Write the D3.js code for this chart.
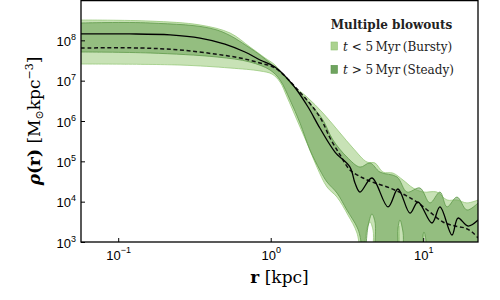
<!DOCTYPE html>
<html><head><meta charset="utf-8">
<script src="https://cdn.jsdelivr.net/npm/d3@7"></script>
<style>body{margin:0;background:#fff}svg{display:block}</style>
</head><body><svg id="c" width="500" height="300"></svg>
<script>
// ---- data ----
const xTicks = [0.1, 1, 10];
const xTickExp = ["\u22121", "0", "1"];
const yTicks = [1e3, 1e4, 1e5, 1e6, 1e7, 1e8];
const yTickExp = ["3", "4", "5", "6", "7", "8"];

const rSolid   = [0.057,0.119,0.219,0.344,0.501,0.678,0.851,1.067,1.40,1.757,2.10,2.64,3.31,3.57,3.85,4.61,5.88,6.83,8.19,9.24,11.42,12.88,15.44,16.90,19.67,22.9];
const rhoSolid = [1.44e8,1.44e8,1.36e8,1.14e8,8.1e7,5.14e7,3.25e7,2.18e7,7.8e6,2.22e6,6.7e5,1.70e5,7.2e4,2.9e4,1.73e4,3.86e4,7.4e3,2.06e4,5.2e3,9.8e3,2.96e3,7.4e3,1.49e3,3.93e3,2.49e3,3.51e3];

const rDashed   = [0.057,0.139,0.254,0.431,0.629,0.851,1.067,1.51,2.10,2.45,2.85,3.31,4.03,4.83,6.06,7.60,9.10,11.07,13.48,16.15,18.79,20.89,22.9];
const rhoDashed = [6.46e7,6.46e7,5.76e7,4.58e7,3.65e7,2.74e7,2.06e7,5.86e6,1.26e6,3.79e5,1.44e5,6.1e4,3.86e4,2.9e4,2.18e4,1.46e4,9.8e3,5.5e3,3.13e3,2.49e3,2.22e3,1.77e3,1.26e3];

// t < 5 Myr (Bursty) band
const rBurstyHi   = [0.057,0.162,0.344,0.541,0.731,0.918,1.067,1.339,1.73,2.20,2.85,3.46,4.28,4.83,5.45,6.34,7.37,8.58,9.97,12.31,14.32,16.65,19.36,22.9];
const rhoBurstyHi = [3.19e8,3.0e8,2.40e8,1.52e8,6.84e7,3.65e7,2.44e7,8.75e6,3.93e6,1.58e6,5.04e5,2.14e5,9.6e4,9.1e4,5.4e4,5.1e4,3.44e4,2.18e4,1.73e4,1.73e4,1.10e4,1.10e4,9.3e3,1.10e4];
const rBurstyLo   = [0.057,0.254,0.541,0.851,1.02,1.151,1.28,1.487,1.73,2.01,2.34,2.72,3.21,3.68,3.97,4.28,4.48,4.69,4.90,6.63,6.94,7.26,9.8,10.1,10.4,10.7,22.9];
const rhoBurstyLo = [2.59e7,2.44e7,2.06e7,1.74e7,1.46e7,9.3e6,3.93e6,1.06e6,2.85e5,7.2e4,2.31e4,1.30e4,4.67e3,1.67e3,300,2.22e3,3.13e3,1.98e3,300,300,2.49e3,300,300,1.5e3,1.0e3,300,300];

// t > 5 Myr (Steady) band
const rSteadyHi   = [0.057,0.162,0.445,0.731,0.99,1.204,1.556,1.89,2.20,2.56,3.16,3.85,4.48,5.21,6.73,7.83,9.52,11.07,12.88,14.32,16.65,19.36,22.9];
const rhoSteadyHi = [2.69e8,2.69e8,1.80e8,6.46e7,2.74e7,1.38e7,4.94e6,2.22e6,1.06e6,3.38e5,1.28e5,7.2e4,9.1e4,5.4e4,4.1e4,1.73e4,2.18e4,9.3e3,1.73e4,7.4e3,1.30e4,6.2e3,9.3e3];
const rSteadyLo   = [0.057,0.162,0.445,0.731,0.99,1.151,1.339,1.556,1.81,2.10,2.34,2.72,3.16,3.68,3.85,4.09,4.35,4.61,4.83,5.05,6.53,6.83,7.04,7.37,7.71,9.52,9.97,10.12,10.43,10.75,22.9];
const rhoSteadyLo = [5.14e7,4.85e7,3.86e7,2.90e7,1.84e7,1.04e7,3.31e6,8.9e5,1.91e5,6.1e4,3.07e4,1.64e4,6.2e3,2.35e3,1.4e3,300,2.49e3,4.94e3,3.13e3,300,300,2.22e3,3.51e3,1.77e3,300,300,1.49e3,1.77e3,1.12e3,300,300];

const legendTitle = "Multiple blowouts";
const legendItems = [
  {pre:"t", mid:" < 5\u2009Myr\u2009(Bursty)", fill:"#abd28f", stroke:"#8fc274"},
  {pre:"t", mid:" > 5\u2009Myr\u2009(Steady)", fill:"#6fa35f", stroke:"#5a944b"}
];

// ---- layout ----
const L = 81, R = 478, T = 0, B = 242;
const svg = d3.select("#c");
const x = d3.scaleLog().domain([0.05702, 22.87]).range([L, R]);
const y = d3.scaleLog().domain([1e3, 1e9]).range([B, T]);

const zip = (rs, vs) => rs.map((r, i) => [r, vs[i]]);
const line = d3.line().x(d => x(d[0])).y(d => y(d[1])).curve(d3.curveCatmullRom.alpha(0.5));

svg.append("defs").append("clipPath").attr("id", "clip")
  .append("rect").attr("x", L).attr("y", T).attr("width", R - L).attr("height", B - T);

const plot = svg.append("g").attr("clip-path", "url(#clip)");

function band(hi, lo, fill, op, stroke) {
  const up = line(hi);
  const dn = line(lo.slice().reverse()).replace(/^M/, "L");
  plot.append("path").attr("d", up + dn + "Z").attr("fill", fill).attr("fill-opacity", op).attr("stroke", "none");
  [hi, lo].forEach(p => plot.append("path").attr("d", line(p)).attr("fill", "none")
    .attr("stroke", stroke).attr("stroke-width", 1).attr("stroke-opacity", 0.8));
}
band(zip(rBurstyHi, rhoBurstyHi), zip(rBurstyLo, rhoBurstyLo), "#a3cf85", 0.6, "#98c97c");
band(zip(rSteadyHi, rhoSteadyHi), zip(rSteadyLo, rhoSteadyLo), "#5f9a4a", 0.5, "#5f9a4a");

plot.append("path").attr("d", line(zip(rDashed, rhoDashed))).attr("fill", "none")
  .attr("stroke", "#111").attr("stroke-width", 1.5).attr("stroke-dasharray", "4,2.6");
plot.append("path").attr("d", line(zip(rSolid, rhoSolid))).attr("fill", "none")
  .attr("stroke", "#000").attr("stroke-width", 1.3);

// axes (inward ticks)
const gx = svg.append("g").attr("transform", `translate(0,${B})`)
  .call(d3.axisBottom(x).tickValues(xTicks).tickSize(-4).tickFormat(() => ""));
const gy = svg.append("g").attr("transform", `translate(${L},0)`)
  .call(d3.axisLeft(y).tickValues(yTicks).tickSize(-4).tickFormat(() => ""));
[gx, gy].forEach(g => { g.select(".domain").remove(); g.selectAll("line").attr("stroke", "#000").attr("stroke-width", 1); });

const tickFont = "'Liberation Sans', Arial, sans-serif";
gx.selectAll(".tick text").each(function (d, i) {
  const t = d3.select(this).attr("y", 18).attr("dy", 0).attr("font-family", tickFont).attr("font-size", 13).attr("fill", "#000");
  t.text(null);
  t.append("tspan").text("10");
  t.append("tspan").attr("font-size", 9).attr("dy", -7).text(xTickExp[i]);
}).attr("text-anchor", "middle");
gy.selectAll(".tick text").each(function (d, i) {
  const t = d3.select(this).attr("x", -5).attr("dy", 0).attr("y", 5).attr("font-family", tickFont).attr("font-size", 13).attr("fill", "#000");
  t.text(null);
  t.append("tspan").text("10");
  t.append("tspan").attr("font-size", 9).attr("dy", -6).text(yTickExp[i]);
}).attr("text-anchor", "end");

// frame
svg.append("rect").attr("x", L).attr("y", T + 0.6).attr("width", R - L).attr("height", B - T - 0.6)
  .attr("fill", "none").attr("stroke", "#000").attr("stroke-width", 1.3);

const serif = "'DejaVu Serif', 'Liberation Serif', serif";
// x label
const xl = svg.append("text").attr("x", (L + R) / 2).attr("y", 283).attr("text-anchor", "middle")
  .attr("font-family", serif).attr("font-size", 17).attr("fill", "#000");
xl.append("tspan").attr("font-weight", "bold").text("r");
xl.append("tspan").text(" [kpc]");

// y label
const yl = svg.append("text").attr("transform", `translate(40,${(T + B) / 2}) rotate(-90)`).attr("text-anchor", "middle")
  .attr("font-family", serif).attr("font-size", 17).attr("fill", "#000");
yl.append("tspan").attr("font-weight", "bold").attr("font-style", "italic").text("\u03C1");
yl.append("tspan").attr("font-weight", "bold").text("(r)");
yl.append("tspan").text(" [M");
yl.append("tspan").attr("font-size", 11).attr("dy", 3).text("\u2299");
yl.append("tspan").attr("dy", -3).text("kpc");
yl.append("tspan").attr("font-size", 11).attr("dy", -7).text("\u22123");
yl.append("tspan").attr("dy", 7).text("]");

// legend
svg.append("text").attr("x", 391.5).attr("y", 28.5).attr("text-anchor", "middle")
  .attr("font-family", serif).attr("font-weight", "bold").attr("font-size", 12).attr("fill", "#222").text(legendTitle);
legendItems.forEach((it, i) => {
  const yy = 42 + i * 23.3;
  svg.append("rect").attr("x", 331).attr("y", yy).attr("width", 6.5).attr("height", 8)
    .attr("fill", it.fill).attr("stroke", it.stroke).attr("stroke-width", 0.6);
  const t = svg.append("text").attr("x", 343).attr("y", yy + 8.5).attr("font-family", serif)
    .attr("font-size", 12).attr("fill", "#222");
  t.append("tspan").attr("font-style", "italic").text(it.pre);
  t.append("tspan").text(it.mid);
});
</script>
</body></html>
